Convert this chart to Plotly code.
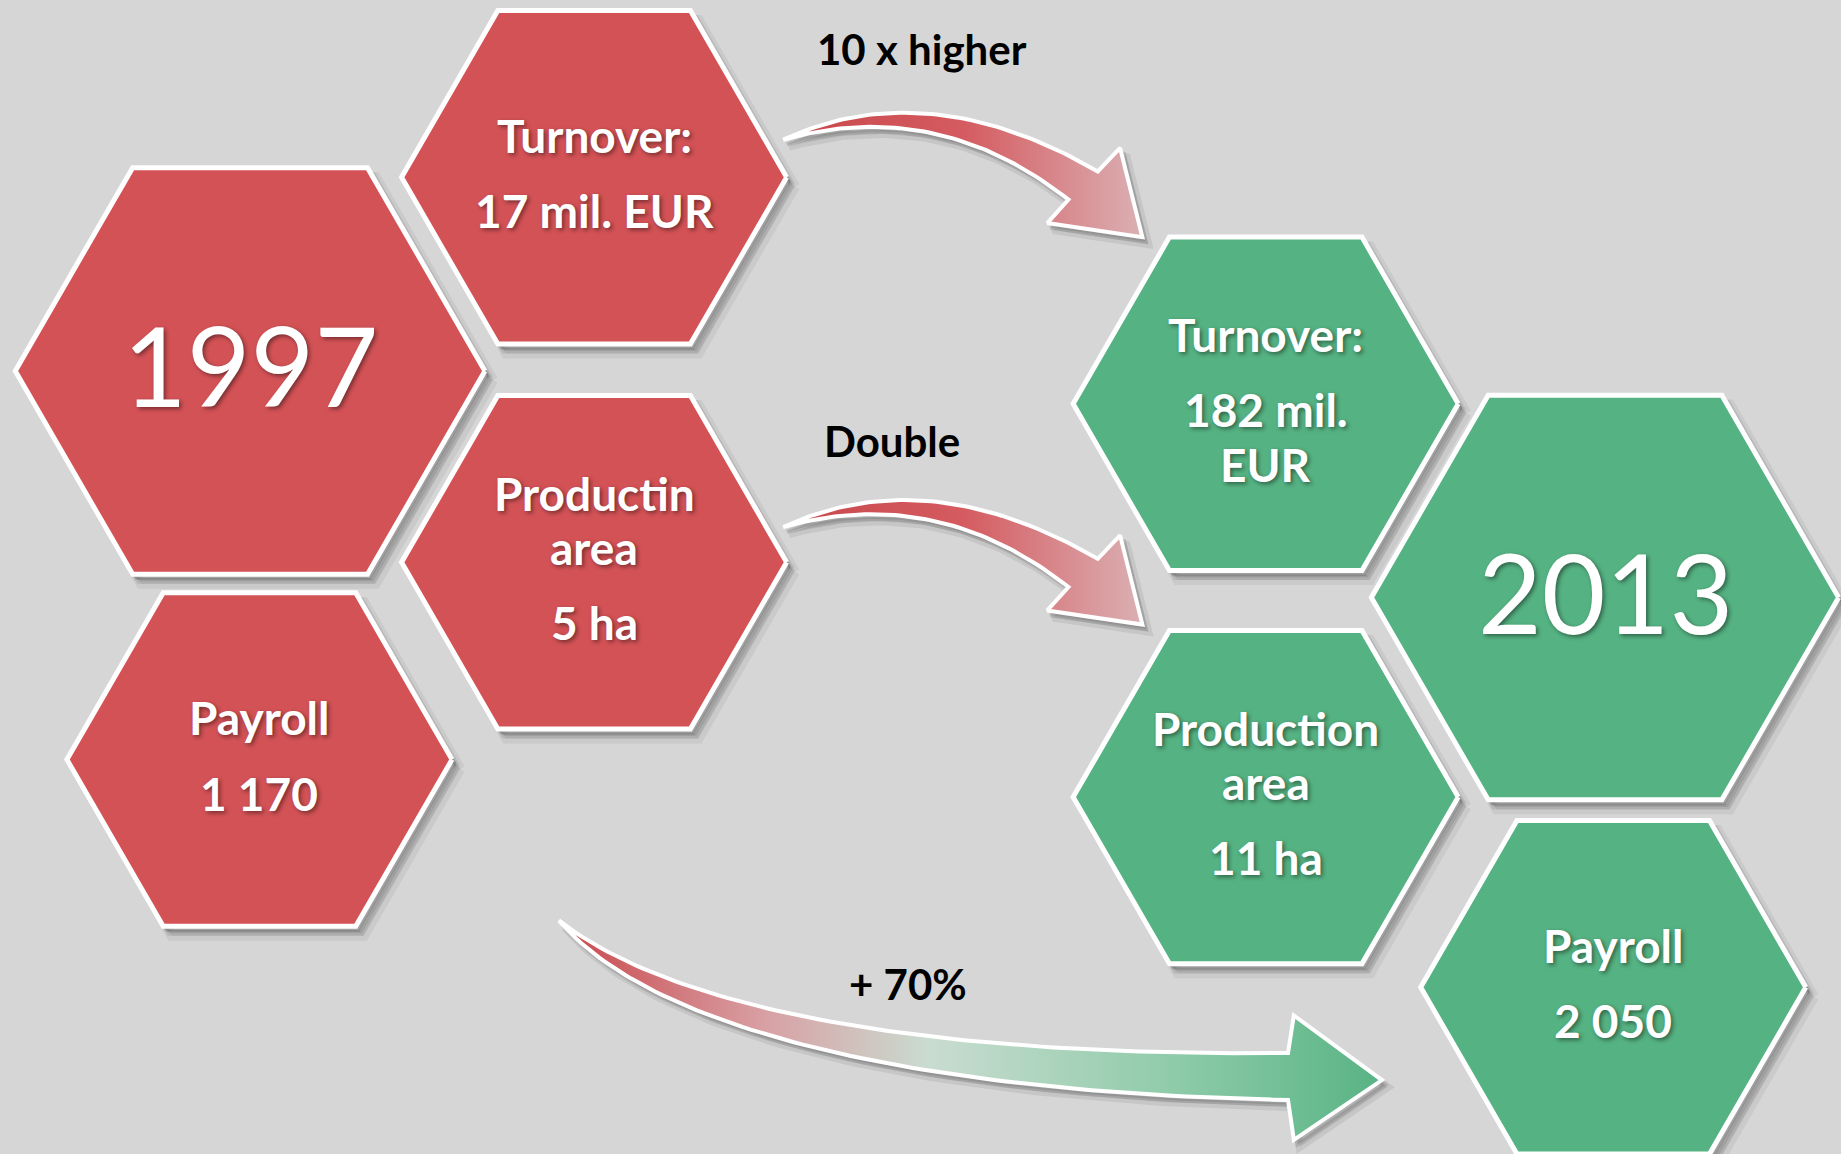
import numpy as np
import plotly.graph_objects as go

# ---------------- data ----------------
years = ["1997", "2013"]
metric_labels_1997 = ["Turnover:", "Productin<br>area", "Payroll"]
metric_labels_2013 = ["Turnover:", "Production<br>area", "Payroll"]
values_1997 = ["17 mil. EUR", "5 ha", "1 170"]
values_2013 = ["182 mil.<br>EUR", "11 ha", "2 050"]
changes = ["10 x higher", "Double", "+ 70%"]

# ---------------- layout (canvas units, y downward) ----------------
W, H = 1568, 983

RED = "#D35256"
GREEN = "#55B282"

year_pos = [(213, 316, 200), (1367, 509, 199)]
metric_pos_1997 = [(506, 151, 164), (506, 479, 164), (221, 647, 164)]
metric_pos_2013 = [(1078, 344, 164), (1078, 679, 164), (1374, 841, 164)]
change_label_pos = [(785, 42), (760, 376), (773, 838)]

fig = go.Figure()


def hexagon(cx, cy, r):
    ang = np.deg2rad(np.arange(0, 361, 60))
    return cx + r * np.cos(ang), cy + r * np.sin(ang)


def add_hex(cx, cy, r, color):
    x, y = hexagon(cx, cy, r)
    # soft shadow
    for dx, dy, a, lw in [(7, 8, 0.08, 10), (5, 6, 0.12, 5), (3, 4, 0.18, 2)]:
        fig.add_trace(go.Scatter(x=x + dx, y=y + dy, mode="lines", fill="toself",
                                 fillcolor=f"rgba(60,60,60,{a})",
                                 line=dict(color=f"rgba(60,60,60,{a})", width=lw),
                                 hoverinfo="skip", showlegend=False))
    fig.add_trace(go.Scatter(x=x, y=y, mode="lines", fill="toself", fillcolor=color,
                             line=dict(color="white", width=5), hoverinfo="skip",
                             showlegend=False))


def qbez(p0, c, p1, n=60):
    t = np.linspace(0, 1, n)[:, None]
    p0, c, p1 = map(np.array, (p0, c, p1))
    return (1 - t) ** 2 * p0 + 2 * t * (1 - t) * c + t ** 2 * p1


def cbez(p0, c1, c2, p1, n=80):
    t = np.linspace(0, 1, n)[:, None]
    p0, c1, c2, p1 = map(np.array, (p0, c1, c2, p1))
    return ((1 - t) ** 3 * p0 + 3 * t * (1 - t) ** 2 * c1 +
            3 * t ** 2 * (1 - t) * c2 + t ** 3 * p1)


def add_arrow(pts, colorscale):
    x, y = pts[:, 0], pts[:, 1]
    for dx, dy, a, lw in [(5, 6, 0.10, 8), (3, 4, 0.15, 4)]:
        fig.add_trace(go.Scatter(x=x + dx, y=y + dy, mode="lines", fill="toself",
                                 fillcolor=f"rgba(60,60,60,{a})",
                                 line=dict(color=f"rgba(60,60,60,{a})", width=lw),
                                 hoverinfo="skip", showlegend=False))
    fig.add_trace(go.Scatter(x=x, y=y, mode="lines", fill="toself",
                             fillgradient=dict(type="horizontal", colorscale=colorscale),
                             line=dict(color="white", width=4),
                             hoverinfo="skip", showlegend=False))


# hexagons
for (cx, cy, r) in metric_pos_1997:
    add_hex(cx, cy, r, RED)
add_hex(*year_pos[0], RED)
for (cx, cy, r) in metric_pos_2013:
    add_hex(cx, cy, r, GREEN)
add_hex(*year_pos[1], GREEN)

# curved arrows 1 and 2 (same geometry, shifted vertically)
red_scale = [[0, "#C8474B"], [0.5, "#D45B60"], [1, "#DBB0B3"]]
for dy in (0, 330):
    S = (667, 119 + dy)
    upper = qbez(S, (790, 62 + dy), (935, 146 + dy))
    head = np.array([(954, 126 + dy), (973, 202 + dy), (892, 190 + dy)])
    lower = qbez(S, (798, 82 + dy), (910, 170 + dy))[::-1]
    add_arrow(np.vstack([upper, head, lower]), red_scale)

# long arrow 3 (red -> green)
S3 = (476, 784)
upper3 = cbez(S3, (570, 858), (780, 900), (1097, 897))
head3 = np.array([(1102, 865), (1177, 920), (1102, 971)])
lower3 = cbez(S3, (550, 872), (760, 930), (1097, 937))[::-1]
add_arrow(np.vstack([upper3, head3, lower3]),
          [[0, "#C9464B"], [0.25, "#D8A0A4"], [0.45, "#C9DCD0"], [0.75, "#8ECBA9"], [1, "#58B384"]])

# ---------------- text ----------------
ann = []
WHITE_SHADOW = "2px 2px 4px rgba(0,0,0,0.45)"
LAB_FONT = dict(family="Lato", size=46, color="white", weight="bold", shadow=WHITE_SHADOW)


def block(cx, cy, label, value):
    lab_lines = label.split("<br>")
    val_lines = value.split("<br>")
    ys = []
    y = 0
    for i, _ in enumerate(lab_lines):
        if i > 0:
            y += 46
        ys.append(y)
    y += 64
    for i, _ in enumerate(val_lines):
        if i > 0:
            y += 47
        ys.append(y)
    mid = (ys[0] + ys[-1]) / 2
    for txt, yy in zip(lab_lines + val_lines, ys):
        ann.append(dict(x=cx, y=cy - mid + yy - 3.5, text=txt, showarrow=False,
                        xanchor="center", yanchor="middle", font=LAB_FONT))


for (cx, cy, r), lab, val in zip(metric_pos_1997, metric_labels_1997, values_1997):
    block(cx, cy, lab, val)
for (cx, cy, r), lab, val in zip(metric_pos_2013, metric_labels_2013, values_2013):
    block(cx, cy, lab, val)

for (cx, cy, r), yr in zip(year_pos, years):
    ann.append(dict(x=cx, y=cy - 6, text=yr, showarrow=False, xanchor="center", yanchor="middle",
                    font=dict(family="Lato", size=110, color="white", shadow=WHITE_SHADOW)))

for (x, y), txt in zip(change_label_pos, changes):
    ann.append(dict(x=x, y=y, text=txt, showarrow=False, xanchor="center", yanchor="middle",
                    font=dict(family="Lato", size=42, color="black", weight="bold")))

fig.update_layout(
    width=1841, height=1154,
    margin=dict(l=0, r=0, t=0, b=0),
    paper_bgcolor="#D6D6D6", plot_bgcolor="#D6D6D6",
    xaxis=dict(range=[0, W], visible=False, fixedrange=True),
    yaxis=dict(range=[H, 0], visible=False, fixedrange=True),
    annotations=ann,
    showlegend=False,
)

fig.write_html("out.html",
               post_script="document.body.style.margin='0';document.body.style.overflow='hidden';",
               config=dict(displayModeBar=False))
